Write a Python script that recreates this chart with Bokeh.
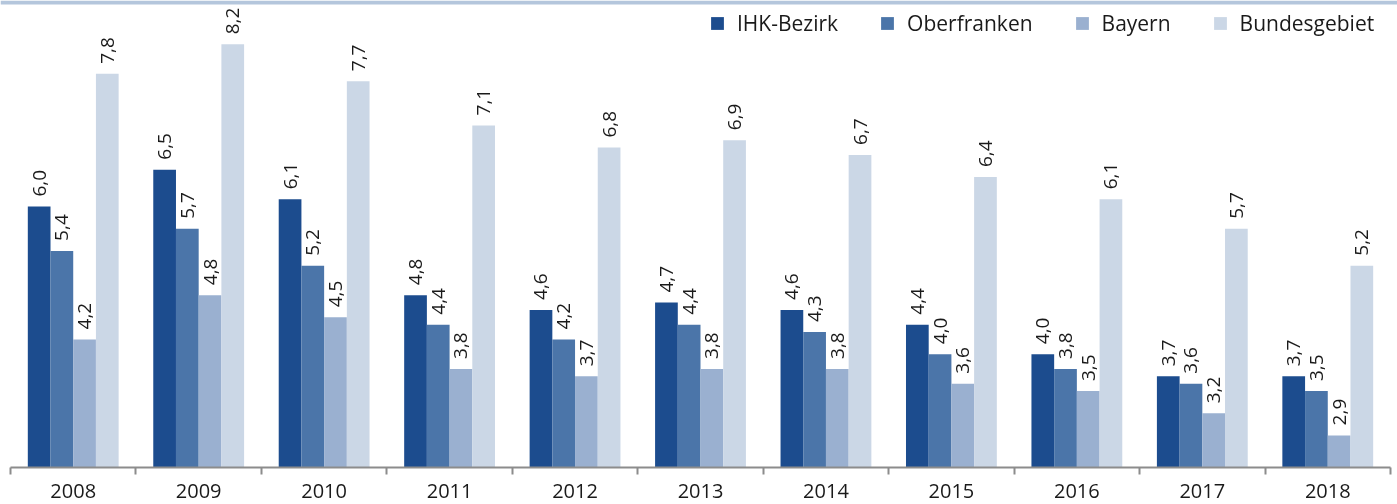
import numpy as np
from bokeh.plotting import figure
from bokeh.models import (Range1d, FixedTicker, LinearAxis, Legend, LegendItem,
                          BoxAnnotation)
from bokeh.core.properties import value
from bokeh.embed import file_html
from bokeh.resources import INLINE

# ---------------- data ----------------
years = ["2008", "2009", "2010", "2011", "2012", "2013", "2014", "2015", "2016", "2017", "2018"]
series_names = ["IHK-Bezirk", "Oberfranken", "Bayern", "Bundesgebiet"]
ihk_bezirk   = [6.0, 6.5, 6.1, 4.8, 4.6, 4.7, 4.6, 4.4, 4.0, 3.7, 3.7]
oberfranken  = [5.4, 5.7, 5.2, 4.4, 4.2, 4.4, 4.3, 4.0, 3.8, 3.6, 3.5]
bayern       = [4.2, 4.8, 4.5, 3.8, 3.7, 3.8, 3.8, 3.6, 3.5, 3.2, 2.9]
bundesgebiet = [7.8, 8.2, 7.7, 7.1, 6.8, 6.9, 6.7, 6.4, 6.1, 5.7, 5.2]
series_values = [ihk_bezirk, oberfranken, bayern, bundesgebiet]

# ---------------- styling ----------------
colors = ["#1C4C8E", "#4B75A9", "#9AB0D0", "#CBD7E6"]
FONT = "Open Sans"
AXIS_COLOR = "#8C8C8C"
TEXT_COLOR = "#1a1a1a"
BAR_W = 0.181
Y0 = 2.465
Y1 = 8.793

n = len(years)
p = figure(width=1397, height=504,
           x_range=Range1d(-0.0797, n + 0.0558),
           y_range=Range1d(Y0, Y1),
           output_backend="svg", toolbar_location=None,
           x_axis_location=None, y_axis_location=None,
           min_border_left=0, min_border_right=0,
           min_border_top=0, min_border_bottom=37)
p.styles = {"position": "fixed", "left": "0px", "top": "0px"}
p.xgrid.visible = False
p.ygrid.visible = False
p.outline_line_color = None
p.background_fill_color = "white"
p.border_fill_color = "white"

# decorative band on top
p.add_layout(BoxAnnotation(bottom=Y1 - 4 / 73.8, fill_color="#B4C6DC",
                           fill_alpha=1.0, line_color=None))

items = []
for j, (name, vals) in enumerate(zip(series_names, series_values)):
    xs = [i + 0.5 + (j - 1.5) * BAR_W for i in range(n)]
    r = p.vbar(x=xs, top=vals, bottom=0, width=BAR_W,
               fill_color=colors[j], line_color=None)
    items.append(LegendItem(label=name, renderers=[r]))
    labels = [f"{v:.1f}".replace(".", ",") for v in vals]
    p.text(x=xs, y=vals, text=labels, angle=np.pi / 2,
           text_align="left", text_baseline="middle",
           y_offset=-10, text_font=value(FONT), text_font_size="19px",
           text_color=TEXT_COLOR)

ax = LinearAxis(
    ticker=FixedTicker(ticks=[i + 0.5 for i in range(n)],
                       minor_ticks=list(range(n + 1))),
    bounds=(0, n),
    major_label_overrides={i + 0.5: y for i, y in enumerate(years)},
)
ax.major_tick_line_color = None
ax.major_tick_out = 0
ax.major_tick_in = 0
ax.minor_tick_in = 0
ax.minor_tick_out = 7
ax.minor_tick_line_color = AXIS_COLOR
ax.minor_tick_line_width = 2
ax.axis_line_color = AXIS_COLOR
ax.axis_line_width = 2
ax.major_label_text_font = FONT
ax.major_label_text_font_size = "20px"
ax.major_label_text_color = TEXT_COLOR
ax.major_label_standoff = 9
p.add_layout(ax, "below")

legend = Legend(items=items, orientation="horizontal",
                location=(709, 430), padding=0, margin=0, spacing=41,
                label_standoff=12, glyph_width=16, glyph_height=16,
                label_text_font=FONT, label_text_font_size="21px",
                label_text_color=TEXT_COLOR,
                border_line_color=None, background_fill_alpha=0)
p.add_layout(legend)

open("out.html", "w").write(file_html(p, INLINE))
